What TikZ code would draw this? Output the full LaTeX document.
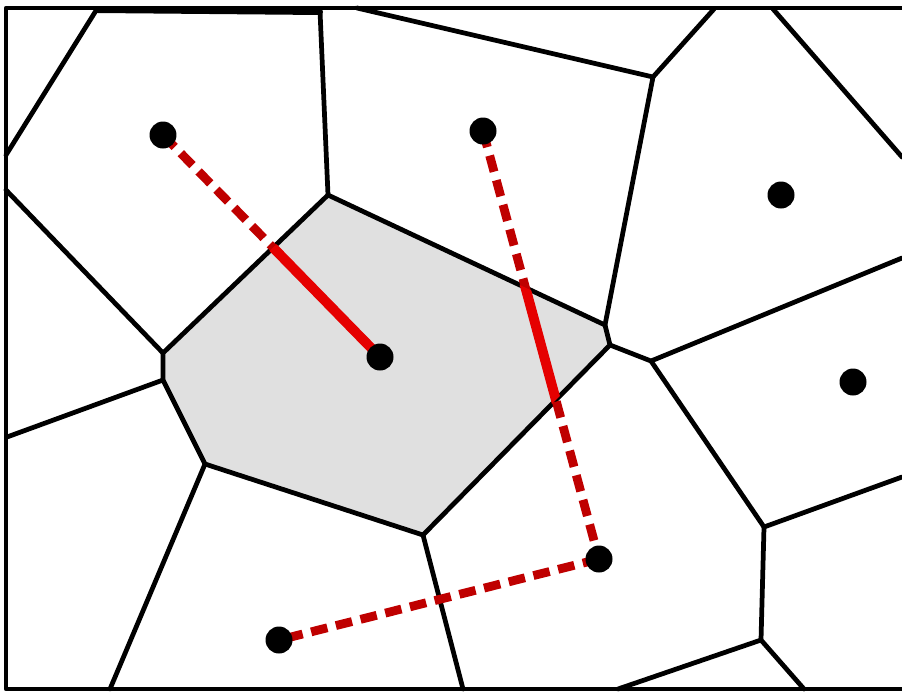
\documentclass[tikz,border=0pt]{standalone}
\usepackage{tikz}

\begin{document}
\begin{tikzpicture}[
  x=0.02cm, y=-0.02cm,
  edge/.style={line width=2.7pt, line join=round, line cap=round},
  cell/.style={fill=black!12},
  bisect/.style={draw=red!75!black, line width=5pt, dash pattern=on 9.5pt off 5pt},
  inside/.style={draw=red!90!black, line width=5.6pt},
  site/.style={circle, fill=black, inner sep=0pt, minimum size=0.54cm}
]
\useasboundingbox (0,0) rectangle (902,694);

% sites
\coordinate (s1) at (163,135);
\coordinate (s2) at (483,131);
\coordinate (s3) at (781,195);
\coordinate (s4) at (380,357);
\coordinate (s5) at (853,382);
\coordinate (s6) at (599,559);
\coordinate (s7) at (279,640);

% vertices of the shaded cell
\coordinate (a) at (328,195);
\coordinate (b) at (605,325);
\coordinate (c) at (610,345);
\coordinate (d) at (423,535);
\coordinate (e) at (205,464);
\coordinate (f) at (163,380);
\coordinate (g) at (163,353);
% other vertices
\coordinate (h) at (653,77);
\coordinate (i) at (651,361);
\coordinate (j) at (764,527);
\coordinate (k) at (761,640);

\fill[cell] (a) -- (b) -- (c) -- (d) -- (e) -- (f) -- (g) -- cycle;

% frame
\draw[edge] (902,8) -- (6,8) -- (6,689) -- (902,689);

% cell edges
\draw[edge] (a) -- (b) -- (c) -- (d) -- (e) -- (f) -- (g) -- cycle;
\draw[edge] (97,9) -- (6,155);
\draw[edge, line width=3.4pt] (97,10) -- (320,12);
\draw[edge] (320,11) -- (a);
\draw[edge] (6,190) -- (g);
\draw[edge] (357,8) -- (h) -- (714,9);
\draw[edge] (773,9) -- (902,157);
\draw[edge] (h) -- (b);
\draw[edge] (c) -- (i) -- (902,258);
\draw[edge] (i) -- (j) -- (902,477);
\draw[edge] (j) -- (k) -- (618,689);
\draw[edge] (k) -- (804,689);
\draw[edge] (d) -- (463,689);
\draw[edge] (e) -- (110,689);
\draw[edge] (f) -- (7,437);

% distances
\draw[bisect] (s1) -- (s4);
\draw[bisect] (s2) -- (s6);
\draw[bisect] (s6) -- (s7);
\begin{scope}
  \clip (a) -- (b) -- (c) -- (d) -- (e) -- (f) -- (g) -- cycle;
  \draw[inside] (s1) -- (s4);
  \draw[inside] (s2) -- (s6);
\end{scope}

\foreach \n in {1,...,7}
  \node[site] (dot\n) at (s\n) {};
\end{tikzpicture}
\end{document}
